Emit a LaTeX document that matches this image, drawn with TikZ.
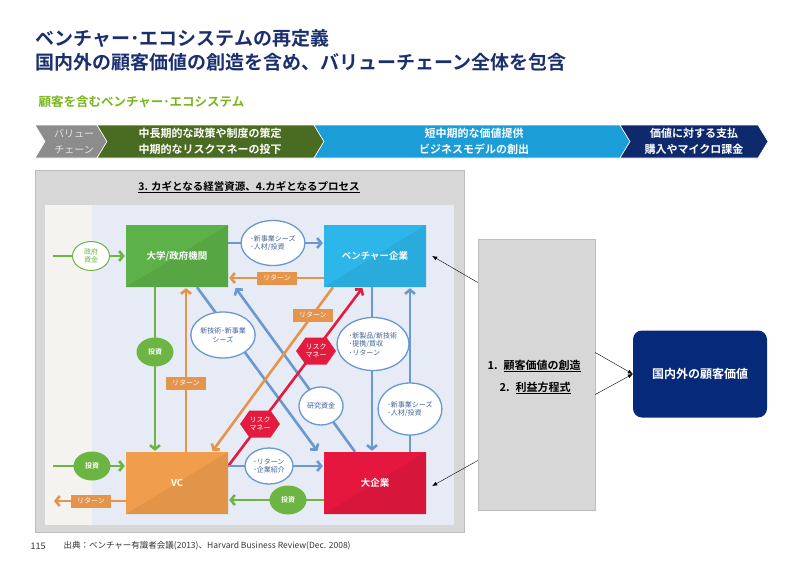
\documentclass[tikz,border=0pt]{standalone}
\usepackage{fontspec}
\setmainfont{Noto Sans CJK JP}[BoldFont={Noto Sans CJK JP Bold}]
\usepackage{xcolor}
\usetikzlibrary{arrows.meta, shapes.geometric, shapes.symbols, positioning}

\definecolor{titlenavy}{HTML}{1B2E6E}
\definecolor{subgreen}{HTML}{7AB51D}
\definecolor{chevgray}{HTML}{8C8C8C}
\definecolor{chevlight}{HTML}{E4E4E4}
\definecolor{chevgreen}{HTML}{4A6B22}
\definecolor{chevblue}{HTML}{1B9DD8}
\definecolor{chevnavy}{HTML}{0E2A6C}
\definecolor{boxgreen}{HTML}{5CB248}
\definecolor{boxblue}{HTML}{2CB6EA}
\definecolor{boxorange}{HTML}{F09E4D}
\definecolor{boxred}{HTML}{E5173F}
\definecolor{lnblue}{HTML}{6A98D0}
\definecolor{lnorange}{HTML}{E5944B}
\definecolor{lngreen}{HTML}{6CB543}
\definecolor{lnred}{HTML}{E31B3F}
\definecolor{bubtext}{HTML}{3F6196}
\definecolor{panelgray}{HTML}{D7D7D7}
\definecolor{panelline}{HTML}{BDBDBD}
\definecolor{innerblue}{HTML}{E6EBF5}
\definecolor{innerpale}{HTML}{F4F3EF}
\definecolor{navybox}{HTML}{06297A}
\definecolor{footgray}{HTML}{333333}

\pgfdeclarelayer{back}
\pgfdeclarelayer{links}
\pgfsetlayers{back,links,main}

\tikzset{
  firm/.style={minimum width=102pt, minimum height=62pt, inner sep=0pt, text=white,
    font=\bfseries\fontsize{9.5}{10}\selectfont, fill=#1,
    path picture={\fill[#1!94!black] (path picture bounding box.north east)
      -- (path picture bounding box.south east) -- (path picture bounding box.south west) -- cycle;}},
  bubble/.style={ellipse, draw=lnblue, line width=1.3pt, fill=white, text=bubtext,
    font=\fontsize{7}{8.5}\selectfont, align=left, inner sep=0pt},
  tag/.style={fill=lnorange, text=white, font=\fontsize{7}{7}\selectfont,
    minimum width=40pt, minimum height=13pt, inner sep=0pt},
  coin/.style={ellipse, fill=lngreen, text=white, font=\bfseries\fontsize{7}{7}\selectfont,
    minimum width=37pt, minimum height=29pt, inner sep=0pt, align=center},
  risk/.style={signal, signal to=east and west, signal pointer angle=110, fill=lnred,
    text=white, font=\fontsize{7}{8}\selectfont, minimum width=37pt, minimum height=27pt,
    inner sep=0pt, align=center},
  link/.style={line width=2.6pt, shorten >=1pt, ->},
  stagetext/.style={text=white, font=\bfseries\fontsize{11}{16}\selectfont, align=center},
}

\begin{document}
\begin{tikzpicture}[x=1pt, y=-1pt, >={Straight Barb[length=4pt,width=10pt]}]
  \useasboundingbox (0,0) rectangle (800,565);

  % titles
  \node[anchor=west, text=titlenavy, font=\bfseries\fontsize{19}{22}\selectfont] (title1) at (32,38) {ベンチャー･エコシステムの再定義};
  \node[anchor=west, text=titlenavy, font=\bfseries\fontsize{19}{22}\selectfont] (title2) at (32,62) {国内外の顧客価値の創造を含め、バリューチェーン全体を包含};
  \node[anchor=west, text=subgreen, font=\bfseries\fontsize{12.5}{14}\selectfont] (subtitle) at (35,102) {顧客を含むベンチャー･エコシステム};

  % value chain
  \foreach \xa/\xb/\col in {35/97/chevgray, 97/314/chevgreen, 314/620/chevblue, 620/758/chevnavy}
    \fill[\col, draw=white, line width=0.6pt] (\xa,125) -- (\xb,125) -- (\xb+10,141.5)
      -- (\xb,158) -- (\xa,158) -- (\xa+10,141.5) -- cycle;
  \node[stagetext, text=chevlight, font=\fontsize{10}{16}\selectfont] (stage0) at (74,141.5) {バリュー\\チェーン};
  \node[stagetext] (stage1) at (210,141.5) {中長期的な政策や制度の策定\\中期的なリスクマネーの投下};
  \node[stagetext] (stage2) at (474,141.5) {短中期的な価値提供\\ビジネスモデルの創出};
  \node[stagetext] (stage3) at (694,141.5) {価値に対する支払\\購入やマイクロ課金};

  % panels
  \begin{pgfonlayer}{back}
    \fill[panelgray, draw=panelline] (35,170) rectangle (464,532);
    \fill[innerpale] (45,205) rectangle (92,525);
    \fill[innerblue] (92,205) rectangle (454,525);
  \end{pgfonlayer}
  \node[font=\bfseries\fontsize{10.5}{12}\selectfont] (ptitle) at (249,187) {\underline{3. カギとなる経営資源、4.カギとなるプロセス}};

  % actors
  \node[firm=boxgreen] (uni) at (177,256) {大学/政府機関};
  \node[firm=boxblue] (ven) at (375,256) {ベンチャー企業};
  \node[firm=boxorange] (vc) at (177,483) {VC};
  \node[firm=boxred] (big) at (375,483) {大企業};

  % flow labels
  \node[coin, fill=white, draw=lngreen, line width=1pt, text=lngreen, font=\fontsize{7}{8}\selectfont] (gov) at (91,256) {政府\\資金};
  \node[bubble, minimum width=62pt, minimum height=45pt] (seeds1) at (273,243) {･新事業シーズ\\･人材/投資};
  \node[tag] (ret1) at (277,278) {リターン};
  \node[coin] (inv1) at (155,352) {投資};
  \node[tag] (ret2) at (186,383) {リターン};
  \node[bubble, minimum width=56pt, minimum height=46pt, align=center] (tech) at (223,335) {新技術･新事業\\シーズ};
  \node[tag] (ret3) at (313,315) {リターン};
  \node[risk] (risk1) at (316,351) {リスク\\マネー};
  \node[risk] (risk2) at (260,424) {リスク\\マネー};
  \node[bubble, minimum width=72pt, minimum height=53pt] (prod) at (373,344) {･新製品/新技術\\･提携/買収\\･リターン};
  \node[bubble, minimum width=44pt, minimum height=38pt] (fund) at (321,406) {研究資金};
  \node[bubble, minimum width=60pt, minimum height=52pt] (seeds2) at (410,409) {･新事業シーズ\\･人材/投資};
  \node[bubble, minimum width=48pt, minimum height=36pt] (intro) at (269,466) {･リターン\\･企業紹介};
  \node[coin] (inv2) at (288,500) {投資};
  \node[coin] (inv3) at (92,466) {投資};
  \node[tag] (ret4) at (91,501) {リターン};
  \coordinate (govin) at (53,256);
  \coordinate (invin) at (53,466);
  \coordinate (retout) at (53,501);

  \begin{pgfonlayer}{links}
    \draw[link, lngreen] (govin) -- (uni.west);
    \draw[link, lnblue] ([yshift=13pt]uni.east) -- ([yshift=13pt]ven.west);
    \draw[link, lnorange] ([yshift=-22pt]ven.west) -- ([yshift=-22pt]uni.east);
    \draw[link, lngreen] ([xshift=-22pt]uni.south) -- ([xshift=-22pt]vc.north);
    \draw[link, lnorange] ([xshift=9pt]vc.north) -- ([xshift=9pt]uni.south);
    \draw[link, lnblue] ([xshift=20pt]uni.south) -- ([xshift=-57pt]big.north);
    \draw[link, lnblue] ([xshift=-20pt]big.north) -- ([xshift=58pt]uni.south);
    \draw[link, lnorange] ([xshift=-42pt]ven.south) -- ([xshift=35pt]vc.north);
    \draw[link, lnred] ([yshift=17pt]vc.east) -- ([xshift=-12pt]ven.south);
    \draw[link, lnblue] ([yshift=17pt]vc.east) -- ([yshift=17pt]big.west);
    \draw[link, lngreen] ([yshift=-17pt]big.west) -- ([yshift=-17pt]vc.east);
    \draw[link, lngreen] (invin) -- ([yshift=17pt]vc.west);
    \draw[link, lnorange] ([yshift=-18pt]vc.west) -- (retout);
    \draw[link, lnblue] ([xshift=-3pt]ven.south) -- ([xshift=-3pt]big.north);
    \draw[link, lnblue] ([xshift=35pt]big.north) -- ([xshift=35pt]ven.south);
  \end{pgfonlayer}

  % key items and customer value
  \node[fill=panelgray, draw=panelline, minimum width=117pt, minimum height=271pt] (keys) at (536.5,374.5) {};
  \node[anchor=west, font=\bfseries\fontsize{11}{13}\selectfont] (item1) at (484,366) {1.\hspace{6pt}\underline{顧客価値の創造}};
  \node[anchor=west, font=\bfseries\fontsize{11}{13}\selectfont] (item2) at (496,388) {2.\hspace{6pt}\underline{利益方程式}};
  \node[rounded corners=9pt, fill=navybox, minimum width=134pt, minimum height=87pt, text=white,
    font=\bfseries\fontsize{12}{14}\selectfont] (value) at (700,374) {国内外の顧客価値};

  \draw[-{Latex[length=5pt,width=4pt]}, thin] ([yshift=92pt]keys.west) -- ([xshift=6pt]ven.east);
  \draw[-{Latex[length=5pt,width=4pt]}, thin] ([yshift=-86pt]keys.west) -- ([xshift=6pt,yshift=-3pt]big.east);
  \draw[-{Latex[length=5pt,width=4pt]}, thin] ([yshift=22pt]keys.east) -- (value.west);
  \draw[-{Latex[length=5pt,width=4pt]}, thin] ([yshift=-20pt]keys.east) -- (value.west);

  % footer
  \node[anchor=west, text=footgray, font=\fontsize{9}{10}\selectfont] (page) at (27,546) {115};
  \node[anchor=west, text=footgray, font=\fontsize{8.5}{10}\selectfont] (source) at (60,546) {出典：ベンチャー有識者会議(2013)、Harvard Business Review(Dec. 2008)};
\end{tikzpicture}
\end{document}
